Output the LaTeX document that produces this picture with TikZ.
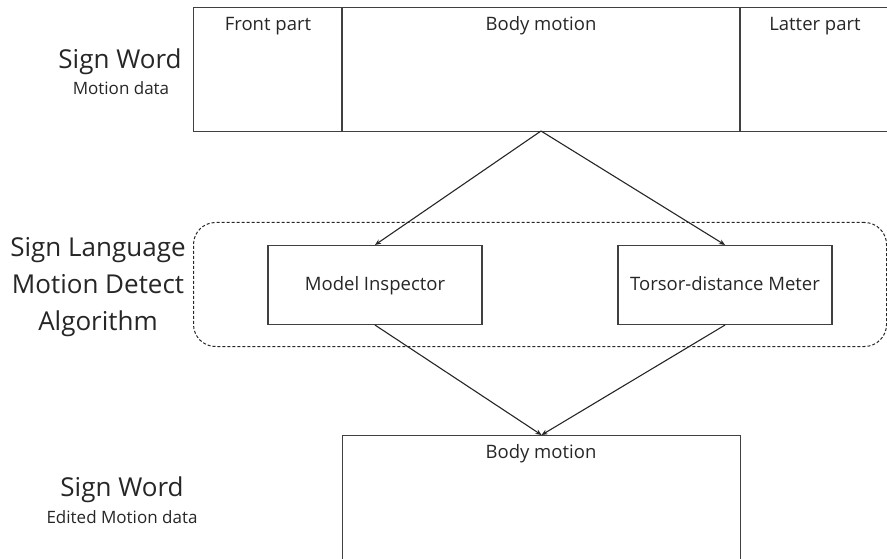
\documentclass[tikz,border=0pt]{standalone}
\usepackage{fontspec}
\setmainfont{Open Sans}
\usetikzlibrary{arrows.meta}
\begin{document}
\begin{tikzpicture}[x=1pt,y=-1pt,
  frame/.style={draw=black!75,line width=1.1pt},
  block/.style={frame,minimum width=214pt,minimum height=79pt,inner sep=0pt},
  caption/.style={font=\fontsize{18.5}{22}\selectfont,text=black!85,text height=0.72em,text depth=0.22em},
  bigtitle/.style={font=\fontsize{26}{37}\selectfont,align=center,text=black!85},
  subtitle/.style={font=\fontsize{17}{20}\selectfont,text=black!85},
  flow/.style={draw=black!85,line width=1.1pt,-{Stealth[length=6pt,width=5pt]}}]
\useasboundingbox (0,0) rectangle (887,559);
\clip (0,0) rectangle (887,559);

% top sign word strip
\node[frame,rectangle,minimum width=702pt,minimum height=124pt,inner sep=0pt,anchor=north west] (top) at (193,7) {};
\draw[frame] (342,7) -- (342,131);
\draw[frame] (740,7) -- (740,131);
\node[caption] (front) at (268,28) {Front part};
\node[caption] (bodytop) at (541,28) {Body motion};
\node[caption] (latter) at (815,28) {Latter part};
\coordinate (src) at (541,131);

\node[bigtitle] (sw1) at (120,62) {Sign Word};
\node[subtitle] (md1) at (121,88) {Motion data};

% detection algorithm group
\node[draw=black!85,dashed,dash pattern=on 3pt off 2pt,line width=1pt,rounded corners=22pt,
      minimum width=693pt,minimum height=124pt,anchor=north west,inner sep=0pt] (group) at (193,222) {};
\node[bigtitle] (algo) at (98,287) {Sign Language\\Motion Detect\\Algorithm};

\node[block] (inspector) at (375,285) {};
\node[block] (meter) at (725,285) {};
\node[caption] (inspectortext) at (375,288) {Model Inspector};
\node[caption] (metertext) at (725,288) {Torsor-distance Meter};

% bottom edited strip
\node[frame,minimum width=398pt,minimum height=140pt,inner sep=0pt,anchor=north west] (bottom) at (342,435) {};
\node[caption] (bodybot) at (541,456) {Body motion};
\node[bigtitle] (sw2) at (122,490) {Sign Word};
\node[subtitle] (md2) at (122,517) {Edited Motion data};

% connectors
\draw[flow] (src) -- (inspector.north);
\draw[flow] (src) -- (meter.north);
\draw[flow] (inspector.south) -- (bottom.north);
\draw[flow] (meter.south) -- (bottom.north);
\end{tikzpicture}
\end{document}
